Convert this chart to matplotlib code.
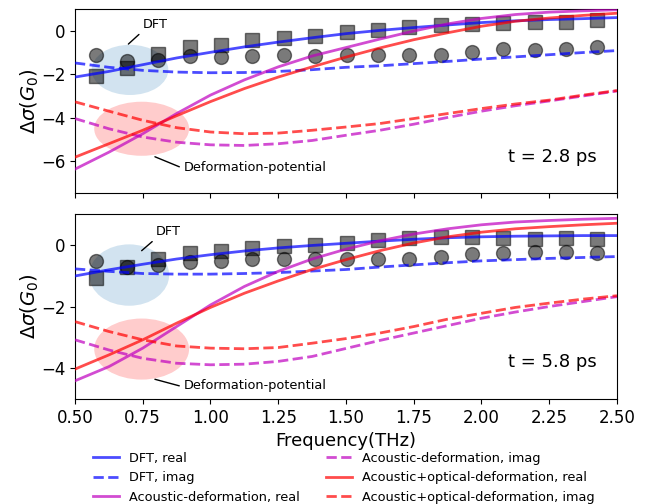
import numpy as np
from matplotlib import pyplot as plt
from matplotlib.patches import Ellipse

# measured points (squares = real, circles = imag)
freq_pts = [0.577, 0.693, 0.808, 0.924, 1.040, 1.155, 1.271, 1.387, 1.502,
            1.618, 1.734, 1.849, 1.965, 2.081, 2.197, 2.312, 2.428]
re_pts_28 = [-2.09, -1.71, -1.05, -0.74, -0.62, -0.43, -0.31, -0.23, -0.05,
             0.05, 0.20, 0.26, 0.31, 0.36, 0.42, 0.43, 0.50]
im_pts_28 = [-1.12, -1.40, -1.32, -1.16, -1.21, -1.16, -1.12, -1.13, -1.10,
             -1.12, -1.12, -1.09, -0.96, -0.85, -0.88, -0.85, -0.74]
re_pts_58 = [-1.08, -0.72, -0.45, -0.27, -0.19, -0.11, -0.05, -0.02, 0.05,
             0.16, 0.22, 0.25, 0.25, 0.22, 0.19, 0.22, 0.19]
im_pts_58 = [-0.52, -0.72, -0.65, -0.56, -0.54, -0.45, -0.45, -0.45, -0.45,
             -0.45, -0.45, -0.40, -0.29, -0.27, -0.22, -0.22, -0.27]

# model curves
freq = [0.5, 0.625, 0.75, 0.875, 1.0, 1.125, 1.25, 1.375, 1.5,
        1.625, 1.75, 1.875, 2.0, 2.125, 2.25, 2.375, 2.5]

dft_re_28 = [-2.12, -1.86, -1.55, -1.24, -0.98, -0.73, -0.51, -0.31, -0.12,
             0.03, 0.16, 0.28, 0.39, 0.47, 0.53, 0.57, 0.62]
dft_im_28 = [-1.47, -1.67, -1.81, -1.89, -1.92, -1.91, -1.86, -1.78, -1.67,
             -1.60, -1.50, -1.40, -1.29, -1.19, -1.09, -0.99, -0.90]
ac_re_28 = [-6.36, -5.58, -4.73, -3.80, -2.95, -2.25, -1.65, -1.15, -0.76,
            -0.37, 0.00, 0.33, 0.58, 0.76, 0.87, 0.93, 0.98]
ac_im_28 = [-4.03, -4.50, -4.88, -5.12, -5.24, -5.27, -5.19, -5.04, -4.80,
            -4.57, -4.29, -3.98, -3.69, -3.44, -3.22, -2.99, -2.76]
aco_re_28 = [-5.81, -5.19, -4.57, -3.90, -3.25, -2.65, -2.12, -1.65, -1.20,
             -0.78, -0.40, -0.08, 0.22, 0.45, 0.60, 0.72, 0.82]
aco_im_28 = [-3.26, -3.69, -4.11, -4.45, -4.65, -4.73, -4.70, -4.57, -4.42,
             -4.26, -4.03, -3.80, -3.57, -3.36, -3.18, -2.95, -2.74]

dft_re_58 = [-1.01, -0.81, -0.63, -0.46, -0.32, -0.20, -0.10, -0.02, 0.05,
             0.12, 0.18, 0.23, 0.26, 0.28, 0.29, 0.30, 0.30]
dft_im_58 = [-0.78, -0.86, -0.93, -0.95, -0.95, -0.93, -0.90, -0.85, -0.80,
             -0.72, -0.65, -0.58, -0.52, -0.48, -0.44, -0.41, -0.38]
ac_re_58 = [-4.41, -3.95, -3.35, -2.65, -1.95, -1.35, -0.86, -0.46, -0.14,
            0.13, 0.35, 0.52, 0.65, 0.74, 0.79, 0.83, 0.86]
ac_im_58 = [-3.08, -3.41, -3.68, -3.84, -3.89, -3.87, -3.78, -3.62, -3.36,
            -3.10, -2.86, -2.62, -2.38, -2.18, -2.00, -1.84, -1.68]
aco_re_58 = [-4.03, -3.57, -3.08, -2.54, -2.03, -1.57, -1.17, -0.80, -0.48,
             -0.19, 0.06, 0.26, 0.41, 0.52, 0.59, 0.65, 0.70]
aco_im_58 = [-2.49, -2.81, -3.08, -3.28, -3.35, -3.37, -3.33, -3.19, -3.04,
             -2.86, -2.65, -2.41, -2.22, -2.03, -1.89, -1.76, -1.65]


def draw_panel(ax, re_pts, im_pts, curves, ylim, yticks, label, ell, notes):
    dft_re, dft_im, ac_re, ac_im, aco_re, aco_im = curves
    # highlight ellipses
    ax.add_patch(Ellipse(ell[0][0], ell[0][1], ell[0][2], color='C0', alpha=0.2, lw=0, zorder=1))
    ax.add_patch(Ellipse(ell[1][0], ell[1][1], ell[1][2], color='r', alpha=0.2, lw=0, zorder=1))

    ax.plot(freq_pts, re_pts, 's', color='k', alpha=0.52, ms=10, zorder=3)
    ax.plot(freq_pts, im_pts, 'o', color='k', alpha=0.52, ms=10, zorder=3)

    ax.plot(freq, dft_re, '-', color='b', alpha=0.7, lw=2, label='DFT, real', zorder=4)
    ax.plot(freq, dft_im, '--', color='b', alpha=0.7, lw=2, label='DFT, imag', zorder=4)
    ax.plot(freq, ac_re, '-', color='m', alpha=0.7, lw=2, label='Acoustic-deformation, real', zorder=4)
    ax.plot(freq, ac_im, '--', color='m', alpha=0.7, lw=2, label='Acoustic-deformation, imag', zorder=4)
    ax.plot(freq, aco_re, '-', color='r', alpha=0.7, lw=2, label='Acoustic+optical-deformation, real', zorder=4)
    ax.plot(freq, aco_im, '--', color='r', alpha=0.7, lw=2, label='Acoustic+optical-deformation, imag', zorder=4)

    ax.annotate('DFT', xy=notes[0][0], xytext=notes[0][1], fontsize=9.3,
                arrowprops=dict(arrowstyle='-', color='k', relpos=(0, 0), shrinkA=1, shrinkB=0))
    ax.annotate('Deformation-potential', xy=notes[1][0], xytext=notes[1][1], fontsize=9.3,
                arrowprops=dict(arrowstyle='-', color='k', relpos=(0, 0.4), shrinkA=1, shrinkB=0))
    ax.text(2.098, notes[2], label, fontsize=13)

    ax.set_xlim(0.5, 2.5)
    ax.set_ylim(ylim)
    ax.set_yticks(yticks)
    ax.set_xticks(np.arange(0.5, 2.51, 0.25))
    ax.set_ylabel(r'$\Delta\sigma(G_0)$', fontsize=14, labelpad=0)
    ax.tick_params(labelsize=12)


fig = plt.figure(figsize=(6.47, 5.04), dpi=100)
ax1 = fig.add_axes([0.1159, 0.617, 0.8377, 0.3645])
ax2 = fig.add_axes([0.1159, 0.2083, 0.8377, 0.3671])

draw_panel(ax1, re_pts_28, im_pts_28,
           (dft_re_28, dft_im_28, ac_re_28, ac_im_28, aco_re_28, aco_im_28),
           (-7.46, 1.0), [0, -2, -4, -6], 't = 2.8 ps',
           [((0.703, -1.79), 0.283, 2.31), ((0.746, -4.5), 0.35, 2.49)],
           [((0.697, -0.60), (0.75, 0.14)), ((0.795, -5.79), (0.90, -6.43)), -6.02])
draw_panel(ax2, re_pts_58, im_pts_58,
           (dft_re_58, dft_im_58, ac_re_58, ac_im_58, aco_re_58, aco_im_58),
           (-5.0, 1.0), [0, -2, -4], 't = 5.8 ps',
           [((0.70, -0.98), 0.295, 1.99), ((0.746, -3.38), 0.35, 1.98)],
           [((0.746, -0.19), (0.799, 0.31)), ((0.795, -4.36), (0.90, -4.68)), -3.97])

ax1.tick_params(labelbottom=False)
ax2.set_xlabel('Frequency(THz)', fontsize=13)

handles, labels = ax2.get_legend_handles_labels()
fig.legend(handles, labels, loc='upper left', bbox_to_anchor=(0.136, 0.114),
           ncol=2, frameon=False, fontsize=9.3, borderaxespad=0)

plt.savefig('out.png', dpi=100)
